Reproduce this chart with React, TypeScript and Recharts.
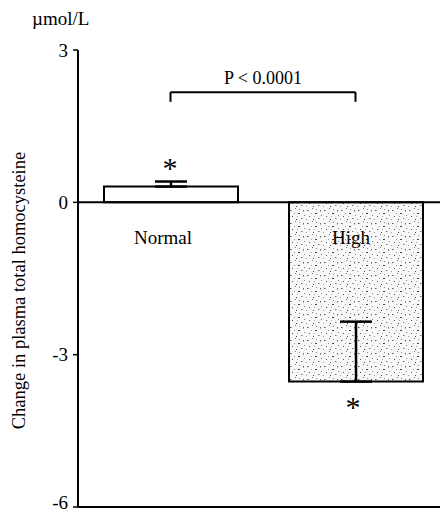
import React from "react";
import {
  BarChart,
  Bar,
  XAxis,
  YAxis,
  ReferenceLine,
  ErrorBar,
  LabelList,
  Cell,
} from "recharts";

const categories = ["Normal", "High"];
const changeValues = [0.31, -3.53];
const errorValues: [number, number][] = [
  [0, 0.1],
  [0, 1.18],
];
const yTicks = [3, 0, -3, -6];
const pValueText = "P < 0.0001";
const yAxisTitle = "Change in plasma total homocysteine";
const unitText = "\u00b5mol/L";
const bracketY = 2.17;
const bracketLegY = 1.98;

const data = categories.map((name, i) => ({
  name,
  value: changeValues[i],
  err: errorValues[i],
}));

const FONT = "'Liberation Serif', 'Times New Roman', serif";

const AsteriskLabel = (props: any) => {
  const { x, y, width, height, value } = props;
  const top = Math.min(y, y + height);
  const bottom = Math.max(y, y + height);
  const cx = x + width / 2;
  if (value >= 0) {
    return (
      <text x={cx - 1} y={top - 9} textAnchor="middle" fontFamily={FONT} fontSize={30} fill="#000">
        *
      </text>
    );
  }
  return (
    <text x={cx - 3} y={bottom + 35} textAnchor="middle" fontFamily={FONT} fontSize={30} fill="#000">
      *
    </text>
  );
};

const NameLabel = (props: any) => {
  const { x, y, width, height, value, index } = props;
  const v = changeValues[index];
  const zeroY = v >= 0 ? Math.max(y, y + height) : Math.min(y, y + height);
  const dx = v >= 0 ? -8 : -5;
  return (
    <text x={x + width / 2 + dx} y={zeroY + 42} textAnchor="middle" fontFamily={FONT} fontSize={19} fill="#000">
      {value}
    </text>
  );
};

const YTick = (props: any) => {
  const { x, y, payload } = props;
  const ty = Math.min(y, 502);
  return (
    <text x={x} y={ty} dy="0.35em" textAnchor="end" fontFamily={FONT} fontSize={19} fill="#000">
      {payload.value}
    </text>
  );
};

const YTitle = (props: any) => {
  const { viewBox } = props;
  const cx = 19;
  const cy = viewBox.y + viewBox.height / 2 + 12;
  return (
    <text
      x={cx}
      y={cy}
      transform={`rotate(-90 ${cx} ${cy})`}
      textAnchor="middle"
      dominantBaseline="central"
      fontFamily={FONT}
      fontSize={18.5}
      fill="#000"
    >
      {yAxisTitle}
    </text>
  );
};

export default function App() {
  return (
    <div
      style={{
        position: "absolute",
        left: 0,
        top: 0,
        width: 440,
        height: 516,
        overflow: "hidden",
        background: "#fff",
      }}
    >
      <svg width={0} height={0} style={{ position: "absolute" }}>
        <defs>
          <pattern id="stipple" width={17} height={13} patternUnits="userSpaceOnUse">
            <rect width={17} height={13} fill="#f8f8f8" />
            <rect x={1} y={2} width={1.5} height={1} fill="#555" />
            <rect x={6} y={0} width={1} height={1} fill="#777" />
            <rect x={9} y={5} width={2} height={1} fill="#444" />
            <rect x={14} y={2} width={1} height={1.5} fill="#666" />
            <rect x={3} y={8} width={1} height={1} fill="#555" />
            <rect x={12} y={10} width={1.5} height={1} fill="#777" />
            <rect x={7} y={11} width={1} height={1} fill="#444" />
            <rect x={15} y={7} width={1} height={1} fill="#888" />
            <rect x={5} y={5} width={1} height={1} fill="#999" />
            <rect x={10} y={1} width={1} height={1} fill="#888" />
            <rect x={0} y={11} width={1} height={1} fill="#999" />
            <rect x={8} y={8} width={1} height={1} fill="#aaa" />
          </pattern>
        </defs>
      </svg>
      <div
        style={{
          position: "absolute",
          left: 32,
          top: 8,
          fontFamily: FONT,
          fontSize: 19,
          color: "#000",
          lineHeight: "22px",
        }}
      >
        {unitText}
      </div>
      <BarChart
        width={450}
        height={516}
        data={data}
        margin={{ top: 50, right: 2, bottom: 8, left: 0 }}
      >
        <XAxis
          dataKey="name"
          tick={false}
          tickLine={false}
          height={1}
          axisLine={{ stroke: "#000", strokeWidth: 2 }}
        />
        <YAxis
          domain={[-6, 3]}
          ticks={yTicks}
          width={78}
          interval={0}
          tickSize={5}
          tickMargin={5}
          axisLine={{ stroke: "#000", strokeWidth: 2 }}
          tickLine={{ stroke: "#000", strokeWidth: 1.5 }}
          tick={<YTick />}
          label={<YTitle />}
        />
        <ReferenceLine y={0} stroke="#000" strokeWidth={2} />
        <ReferenceLine
          segment={[
            { x: "Normal", y: bracketY },
            { x: "High", y: bracketY },
          ]}
          stroke="#000"
          strokeWidth={2}
          label={{
            value: pValueText,
            position: "top",
            offset: 8,
            fill: "#000",
            fontFamily: FONT,
            fontSize: 18,
          }}
        />
        <ReferenceLine
          segment={[
            { x: "Normal", y: bracketY },
            { x: "Normal", y: bracketLegY },
          ]}
          stroke="#000"
          strokeWidth={2}
        />
        <ReferenceLine
          segment={[
            { x: "High", y: bracketY },
            { x: "High", y: bracketLegY },
          ]}
          stroke="#000"
          strokeWidth={2}
        />
        <Bar dataKey="value" barSize={134} stroke="#000" strokeWidth={2} isAnimationActive={false}>
          <Cell fill="#fff" />
          <Cell fill="url(#stipple)" />
          <ErrorBar dataKey="err" width={16} stroke="#000" strokeWidth={2.5} direction="y" />
          <LabelList dataKey="value" content={<AsteriskLabel />} />
          <LabelList dataKey="name" content={<NameLabel />} />
        </Bar>
      </BarChart>
    </div>
  );
}
